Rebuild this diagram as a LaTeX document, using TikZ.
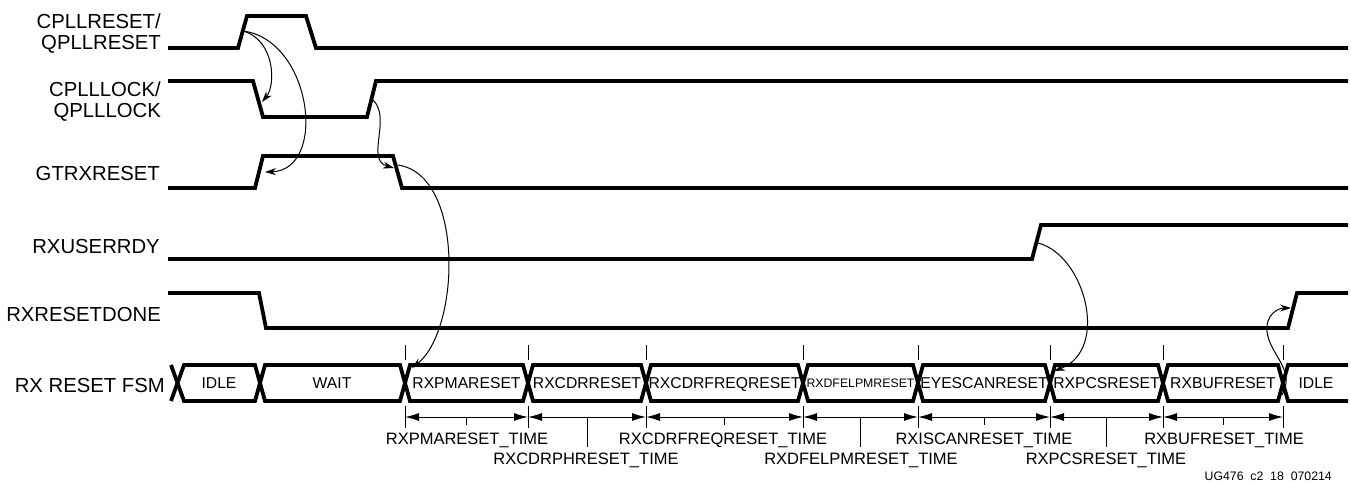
\documentclass[tikz,border=0pt]{standalone}
\usepackage{fontspec}
\setmainfont{Liberation Sans}
\usetikzlibrary{arrows.meta}

\begin{document}
\begin{tikzpicture}[x=1pt,y=-1pt,
  sig/.style={line width=3.8pt, line join=miter},
  bus/.style={line width=3.8pt, line join=miter},
  cause/.style={line width=1pt, -{Stealth[length=11pt,width=7pt]}},
  span/.style={line width=1pt, {Latex[length=14pt,width=8pt]}-{Latex[length=14pt,width=8pt]}},
  tickln/.style={line width=1pt},
  siglabel/.style={anchor=base east, align=right, inner sep=0pt,
    font=\fontsize{20.3}{20.5}\selectfont},
  statelabel/.style={anchor=base, inner sep=0pt, font=\fontsize{15.7}{17}\selectfont},
  timelabel/.style={anchor=base, inner sep=0pt, font=\fontsize{16.5}{18}\selectfont}
]
\useasboundingbox (0,0) rectangle (1351,482);

% ---- signal names (anchored on the baseline of the last line) ----
\node[siglabel] (lpllrst)  at (161,49)  {CPLLRESET/\\QPLLRESET};
\node[siglabel] (lplllock) at (161,117) {CPLLLOCK/\\QPLLLOCK};
\node[siglabel] (lgtrx)    at (160,180) {GTRXRESET};
\node[siglabel] (lusr)     at (160,253) {RXUSERRDY};
\node[siglabel] (ldone)    at (161,321) {RXRESETDONE};
\node[siglabel] (lfsm)     at (165,392) {RX RESET FSM};

% ---- waveforms ----
\draw[sig] (168,48) -- (238,48) -- (247,16) -- (306,16) -- (316,48) -- (1348,48);
\draw[sig] (168,81) -- (253,81) -- (263,117) -- (367,117) -- (376,81) -- (1348,81);
\draw[sig] (168,188) -- (255,188) -- (263,156) -- (393,156) -- (402,188) -- (1348,188);
\draw[sig] (168,259) -- (1032,259) -- (1041,225) -- (1348,225);
\draw[sig] (168,293) -- (259,293) -- (266,328) -- (1288,328) -- (1297,293) -- (1348,293);

% ---- FSM bus ----
\draw[bus] (171,365) -- (184,401) -- (255,401) -- (265,365) -- (400,365) -- (410,401)
  -- (523,401) -- (533,365) -- (641,365) -- (651,401) -- (798,401) -- (808,365)
  -- (913,365) -- (923,401) -- (1045,401) -- (1055,365) -- (1158,365) -- (1168,401)
  -- (1278,401) -- (1288,365) -- (1348,365);
\draw[bus] (171,401) -- (184,365) -- (255,365) -- (265,401) -- (400,401) -- (410,365)
  -- (523,365) -- (533,401) -- (641,401) -- (651,365) -- (798,365) -- (808,401)
  -- (913,401) -- (923,365) -- (1045,365) -- (1055,401) -- (1158,401) -- (1168,365)
  -- (1278,365) -- (1288,401) -- (1348,401);

% ---- state names ----
\node[statelabel] (sidle1) at (219,388.5)  {IDLE};
\node[statelabel] (swait)  at (332,388.5)  {WAIT};
\node[statelabel] (spma)   at (466.5,388.5) {RXPMARESET};
\node[statelabel] (scdr)   at (587,388.5)  {RXCDRRESET};
\node[statelabel] (sfreq)  at (724.5,388.5) {RXCDRFREQRESET};
\node[anchor=base, inner sep=0pt, font=\fontsize{12.3}{14}\selectfont] (sdfe) at (860.5,387.5) {RXDFELPMRESET};
\node[statelabel] (seye)   at (984,388.5)  {EYESCANRESET};
\node[statelabel] (spcs)   at (1106.5,388.5) {RXPCSRESET};
\node[statelabel] (sbuf)   at (1223,388.5) {RXBUFRESET};
\node[statelabel] (sidle2) at (1316,388.5) {IDLE};

% ---- boundary ticks and duration arrows ----
\foreach \x/\n in {405/a,528/b,646/c,803/d,918/e,1050/f,1163/g,1283/h}{
  \draw[tickln] (\x,345) -- (\x,360);
  \draw[tickln] (\x,406) -- (\x,428);
  \coordinate (t\n) at (\x,417);
}
\draw[span] (ta) -- (tb);
\draw[span] (tb) -- (tc);
\draw[span] (tc) -- (td);
\draw[span] (td) -- (te);
\draw[span] (te) -- (tf);
\draw[span] (tf) -- (tg);
\draw[span] (tg) -- (th);

% mid-span leaders: short to the upper row, long to the lower row
\draw[tickln] (466.5,417) -- (466.5,425);
\draw[tickln] (587,417) -- (587,447);
\draw[tickln] (724.5,417) -- (724.5,425);
\draw[tickln] (860.5,417) -- (860.5,447);
\draw[tickln] (984,417) -- (984,425);
\draw[tickln] (1106.5,417) -- (1106.5,447);
\draw[tickln] (1223,417) -- (1223,425);

\node[timelabel] (dpma)  at (467,444)  {RXPMARESET\_TIME};
\node[timelabel] (dcdr)  at (586,464)  {RXCDRPHRESET\_TIME};
\node[timelabel] (dfreq) at (723,444)  {RXCDRFREQRESET\_TIME};
\node[timelabel] (ddfe)  at (861,464)  {RXDFELPMRESET\_TIME};
\node[timelabel] (deye)  at (984,444)  {RXISCANRESET\_TIME};
\node[timelabel] (dpcs)  at (1106,464) {RXPCSRESET\_TIME};
\node[timelabel] (dbuf)  at (1224,444) {RXBUFRESET\_TIME};

\node[anchor=base east, inner sep=0pt, font=\fontsize{12.3}{14}\selectfont] (fig) at (1332,480) {UG476\ \ c2\ \ 18\ \ 070214};

% ---- causality arrows ----
\coordinate (rstRise)  at (243,31);
\coordinate (lockFall) at (262,102);
\coordinate (gtrxRise) at (265,172);
\coordinate (lockRise) at (373,100);
\coordinate (gtrxFallIn)  at (394,168);
\coordinate (gtrxFallOut) at (398,165);
\coordinate (pmaStart) at (412,368);
\coordinate (usrRise)  at (1038,243);
\coordinate (pcsStart) at (1054,371);
\coordinate (idleX)    at (1282,395);
\coordinate (doneRise) at (1291,308);

\draw[cause] (rstRise) .. controls (275,40) and (276,85) .. (lockFall);
\draw[cause] (rstRise) .. controls (312,40) and (328,170) .. (gtrxRise);
\draw[cause] (lockRise) .. controls (392,118) and (365,160) .. (gtrxFallIn);
\draw[cause] (gtrxFallOut) .. controls (465,175) and (460,330) .. (pmaStart);
\draw[cause] (usrRise) .. controls (1085,255) and (1110,350) .. (pcsStart);
\draw[cause] (idleX) .. controls (1296,370) and (1270,355) .. (1267,332)
  .. controls (1265,315) and (1278,308) .. (doneRise);
\end{tikzpicture}
\end{document}
